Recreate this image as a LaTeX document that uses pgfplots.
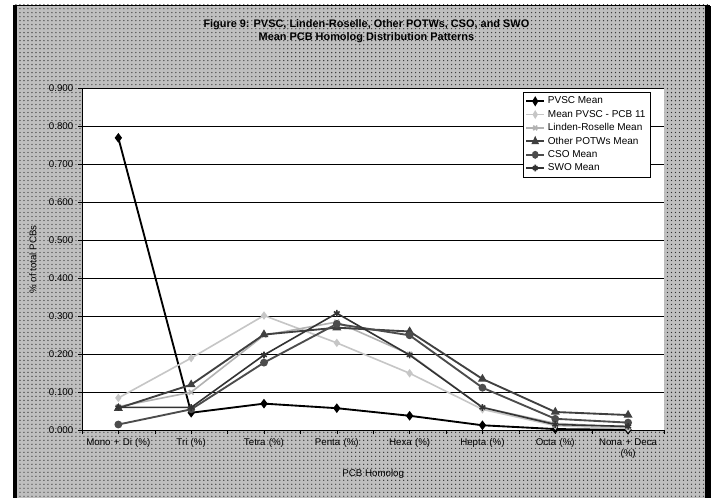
\documentclass[border=0pt]{standalone}
\usepackage{pgfplots}
\pgfplotsset{compat=1.18}
\usepackage{fontspec}
\setmainfont{Liberation Sans}
\usetikzlibrary{patterns}

\begin{document}
\begin{tikzpicture}
% canvas 711x498 px, 1px = 0.75pt
\fill[white] (0,0) rectangle (533.25pt,373.5pt);
\fill[gray!50] (9.75pt,0pt) rectangle (533.25pt,369.75pt);
\fill[pattern=dots, pattern color=black!80] (9.75pt,0pt) rectangle (533.25pt,369.75pt);
\draw[line width=3pt] (11pt,0pt) -- (11pt,369pt);
\draw[line width=0.8pt] (9.75pt,369.5pt) -- (533.25pt,369.5pt);
\draw[line width=4pt] (531.5pt,0pt) -- (531.5pt,369pt);

\node[font=\bfseries\fontsize{8.2}{9.5}\selectfont, align=center] at (275pt,350pt)
  {Figure 9: PVSC, Linden-Roselle, Other POTWs, CSO, and SWO\\Mean PCB Homolog Distribution Patterns};

\begin{axis}[
    at={(61.5pt,50.6pt)}, anchor=south west,
    scale only axis,
    width=437.25pt, height=256.5pt,
    axis background/.style={fill=white},
    xmin=-0.5, xmax=7.5,
    ymin=0, ymax=0.9,
    xtick={0,...,7},
    xticklabels={Mono + Di (\%), Tri (\%), Tetra (\%), Penta (\%), Hexa (\%), Hepta (\%), Octa (\%), {Nona + Deca\\(\%)}},
    xticklabel style={align=center, text width=62pt, font=\fontsize{7.3}{8.5}\selectfont},
    ytick={0,0.1,...,0.9},
    yticklabel style={font=\fontsize{7.3}{8.5}\selectfont,
      /pgf/number format/.cd, fixed, fixed zerofill, precision=3, assume math mode=true},
    ymajorgrids,
    major grid style={black, line width=0.6pt},
    tick align=outside,
    major tick length=3pt,
    tick style={black},
    axis line style={black, line width=0.6pt},
    axis x line*=bottom, axis y line*=left,
    extra x ticks={-0.5,0.5,...,7.5}, extra x tick labels={},
    extra x tick style={grid=none, major tick length=3pt},
    xlabel={PCB Homolog},
    xlabel style={font=\fontsize{7.3}{8.5}\selectfont, at={(axis description cs:0.5,-0.10)}, anchor=north},
    ylabel={\% of total PCBs},
    ylabel style={font=\fontsize{7.3}{8.5}\selectfont, at={(axis description cs:-0.07,0.5)}, anchor=south},
    legend style={at={(axis description cs:0.757,0.99)}, anchor=north west,
      font=\fontsize{7.5}{8.5}\selectfont, draw=black, fill=white,
      row sep=-0.8pt, inner sep=1.5pt, cells={anchor=west}},
    legend cell align=left,
    legend image post style={xscale=0.8},
  ]
  \addplot[black, line width=1.4pt, mark=diamond*, mark size=2.5pt] coordinates {
    (0,0.770) (1,0.046) (2,0.070) (3,0.058) (4,0.038) (5,0.013) (6,0.003) (7,0.001)};
  \addplot[gray!45, line width=1.2pt, mark=diamond*, mark size=2.2pt] coordinates {
    (0,0.085) (1,0.190) (2,0.302) (3,0.230) (4,0.150) (5,0.055) (6,0.012) (7,0.005)};
  \addplot[gray!60, line width=1.2pt, mark=x, mark size=2.5pt] coordinates {
    (0,0.062) (1,0.100) (2,0.250) (3,0.285) (4,0.200) (5,0.060) (6,0.018) (7,0.008)};
  \addplot[black!75, line width=1.4pt, mark=triangle*, mark size=2.5pt] coordinates {
    (0,0.058) (1,0.120) (2,0.252) (3,0.270) (4,0.260) (5,0.135) (6,0.048) (7,0.040)};
  \addplot[black!70, line width=1.4pt, mark=*, mark size=2.2pt] coordinates {
    (0,0.015) (1,0.055) (2,0.178) (3,0.280) (4,0.250) (5,0.112) (6,0.030) (7,0.020)};
  \addplot[black!80, line width=1.2pt, mark=asterisk, mark size=2.5pt] coordinates {
    (0,0.060) (1,0.060) (2,0.198) (3,0.308) (4,0.198) (5,0.060) (6,0.015) (7,0.010)};
  \legend{PVSC Mean, Mean PVSC - PCB 11, Linden-Roselle Mean, Other POTWs Mean, CSO Mean, SWO Mean}
\end{axis}
\end{tikzpicture}
\end{document}
